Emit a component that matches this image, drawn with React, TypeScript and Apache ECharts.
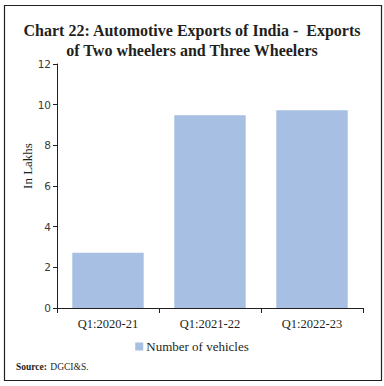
import React, { useEffect, useRef } from "react";
import * as echarts from "echarts";

const categories = ["Q1:2020-21", "Q1:2021-22", "Q1:2022-23"];
const vehicles = [2.72, 9.48, 9.72];
const seriesName = "Number of vehicles";
const titleText = "Chart 22: Automotive Exports of India -  Exports\nof Two wheelers and Three Wheelers";
const yAxisTitle = "In Lakhs";

const FONT = "'Liberation Serif', 'DejaVu Serif', serif";

export default function App() {
  const ref = useRef<HTMLDivElement>(null);
  useEffect(() => {
    document.body.style.margin = "0";
    const chart = echarts.init(ref.current!, null, { renderer: "svg" });
    chart.setOption({
      animation: false,
      backgroundColor: "#ffffff",
      title: {
        text: titleText,
        left: "center",
        top: 15,
        textStyle: {
          fontFamily: FONT,
          fontSize: 16,
          fontWeight: "bold",
          color: "#231f20",
          lineHeight: 20,
        },
      },
      grid: { left: 57, right: 21, top: 64, bottom: 78 },
      legend: {
        data: [seriesName],
        bottom: 28,
        left: "center",
        itemWidth: 8,
        itemHeight: 8,
        itemGap: 4,
        icon: "rect",
        textStyle: { fontFamily: FONT, fontSize: 13, color: "#231f20", padding: [0, 0, 0, -2] },
      },
      xAxis: {
        type: "category",
        data: categories,
        axisLine: { lineStyle: { color: "#231f20", width: 1 } },
        axisTick: { show: true, length: 5, alignWithLabel: false, lineStyle: { color: "#231f20" } },
        axisLabel: { fontFamily: FONT, fontSize: 12.5, color: "#231f20", margin: 9 },
      },
      yAxis: {
        type: "value",
        min: 0,
        max: 12,
        interval: 2,
        splitLine: { show: false },
        axisLine: { show: true, lineStyle: { color: "#231f20", width: 1 } },
        axisTick: { show: true, length: 4, lineStyle: { color: "#231f20" } },
        axisLabel: { fontFamily: "'DejaVu Sans', Verdana, sans-serif", fontSize: 10.5, color: "#3a3a3a", margin: 6 },
      },
      series: [
        {
          name: seriesName,
          type: "bar",
          data: vehicles,
          barCategoryGap: "30%",
          itemStyle: { color: "#a6bfe2" },
        },
      ],
      graphic: [
        {
          type: "rect",
          shape: { x: 4.5, y: 5.5, width: 377, height: 375 },
          style: { fill: "none", stroke: "#231f20", lineWidth: 1.2 },
        },
        {
          type: "text",
          x: 27,
          y: 166,
          rotation: Math.PI / 2,
          style: {
            text: yAxisTitle,
            fontFamily: FONT,
            fontSize: 13,
            fill: "#231f20",
            align: "center",
            verticalAlign: "middle",
          },
        },
        {
          type: "text",
          left: 16,
          top: 361,
          style: {
            rich: {
              b: { fontFamily: FONT, fontSize: 9.5, fontWeight: "bold", fill: "#231f20" },
              n: { fontFamily: FONT, fontSize: 9.5, fill: "#231f20" },
            },
            text: "{b|Source:} {n|DGCI&S.}",
          },
        },
      ],
    });
    return () => chart.dispose();
  }, []);
  return <div ref={ref} style={{ width: 384, height: 386 }} />;
}
